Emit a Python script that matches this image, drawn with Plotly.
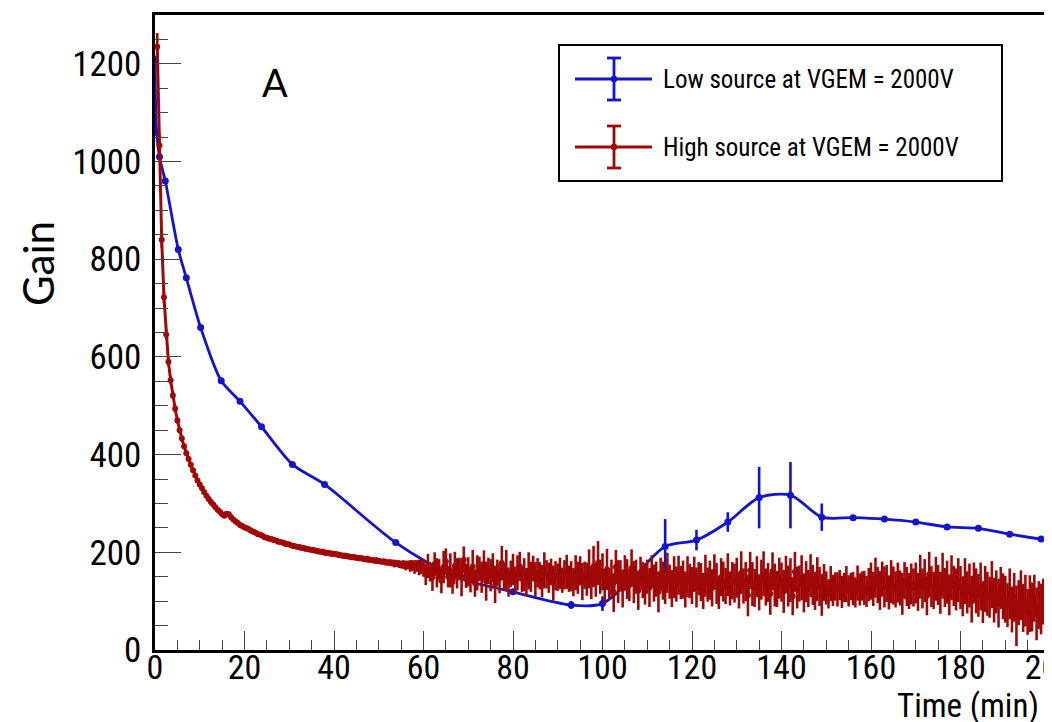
import plotly.graph_objects as go

# ---------------- data ----------------
# Low source (blue) : time (min), gain, error
low_time = [0, 0.35, 1.0, 2.3, 5.2, 7.0, 10.2, 14.8, 19.0, 23.8, 30.7, 37.9, 53.8, 67, 80, 93,
            100, 107, 114, 121, 128, 135, 142, 149, 156, 163, 170, 177, 184, 191, 198]
low_gain = [1210, 1060, 1010, 960, 820, 762, 660, 551, 509, 457, 380, 339, 220, 150, 119, 92,
            95, 150, 212, 225, 262, 312, 317, 272, 271, 268, 262, 252, 249, 237, 227]
low_err = [4, 4, 4, 4, 4, 4, 4, 4, 4, 4, 4, 4, 4, 6, 6, 8,
           15, 12, 56, 21, 20, 63, 68, 28, 5, 5, 5, 5, 5, 5, 5]

# High source (red) : sampled every 0.5 min starting at 0.5 min
red_step = 0.5
high_gain = [
    1235, 1033, 840, 722, 646, 590, 552, 521, 494, 470,
    450, 433, 417, 403, 391, 379, 368, 357, 347, 339,
    331, 323, 316, 309, 303, 298, 292, 287, 283, 278,
    275, 279, 278, 272, 267, 263, 260, 256, 254, 251,
    249, 247, 244, 242, 240, 237, 236, 234, 231, 230,
    228, 227, 225, 224, 222, 221, 220, 218, 217, 216,
    214, 213, 212, 211, 210, 209, 208, 207, 206, 205,
    204, 203, 202, 201, 201, 199, 199, 198, 197, 197,
    196, 195, 194, 193, 193, 192, 191, 190, 190, 189,
    188, 188, 187, 186, 186, 185, 184, 183, 183, 182,
    181, 181, 180, 179, 179, 178, 177, 177, 176, 175,
    175, 173, 174, 172, 173, 170, 172, 169, 170,
    # 60 - 69.5
    168, 155, 172, 160, 149, 176, 158, 165, 142, 170, 181, 150, 163, 139, 172, 157, 166, 148, 185, 152,
    # 70 - 79.5
    160, 144, 171, 137, 158, 166, 149, 175, 141, 162, 153, 168, 134, 159, 147, 178, 150, 163, 139, 156,
    # 80 - 89.5
    165, 143, 158, 171, 146, 154, 139, 162, 150, 167, 145, 158, 152, 141, 163, 155, 148, 160, 137, 152,
    # 90 - 99.5
    149, 157, 143, 154, 160, 146, 151, 139, 158, 148, 162, 140, 153, 145, 166, 135, 171, 142, 178, 150,
    # 100 - 109.5
    160, 128, 165, 137, 148, 118, 170, 140, 152, 126, 158, 145, 133, 168, 139, 150, 122, 157, 143, 135,
    # 110 - 119.5
    150, 128, 161, 137, 145, 119, 155, 142, 131, 158, 140, 126, 149, 135, 153, 138, 144, 124, 150, 141,
    # 120 - 129.5
    132, 155, 128, 146, 139, 121, 152, 134, 143, 127, 160, 136, 118, 149, 140, 131, 154, 126, 142, 137,
    # 130 - 139.5
    148, 122, 158, 131, 140, 112, 163, 135, 127, 150, 118, 144, 156, 129, 138, 115, 161, 133, 125, 147,
    # 140 - 149.5
    139, 120, 155, 131, 143, 110, 160, 128, 136, 148, 117, 140, 126, 152, 133, 121, 145, 130, 113, 138,
    # 150 - 159.5
    127, 115, 136, 122, 130, 124, 133, 119, 128, 135, 121, 130, 126, 118, 137, 124, 131, 127, 120, 134,
    # 160 - 169.5
    141, 125, 148, 133, 122, 145, 129, 136, 118, 140, 132, 124, 138, 127, 115, 142, 130, 121, 135, 128,
    # 170 - 179.5
    137, 119, 150, 126, 142, 111, 155, 130, 122, 146, 133, 117, 152, 128, 139, 113, 148, 131, 124, 143,
    # 180 - 189.5
    128, 110, 141, 118, 132, 104, 137, 121, 112, 130, 98, 125, 115, 108, 134, 102, 119, 96, 127, 110,
    # 190 - 199.5
    104, 92, 115, 83, 108, 70, 97, 112, 86, 101, 78, 95, 88, 106, 74, 92, 84, 99, 72, 88,
    # 200
    92,
]
high_err = [
    28, 22, 16, 12, 10, 9, 8, 7, 7, 6,
    6, 6, 6, 5, 5, 5, 5, 5, 5, 5,
    5, 5, 5, 5, 5, 5, 5, 5, 5, 5,
    5, 5, 5, 5, 5, 5, 5, 5, 5, 5,
    5, 5, 5, 5, 5, 5, 5, 5, 5, 5,
    5, 5, 5, 5, 6, 5, 5, 6, 5, 5,
    5, 6, 5, 5, 6, 5, 6, 5, 5, 6,
    6, 5, 6, 5, 6, 6, 5, 6, 6, 5,
    6, 6, 5, 6, 6, 6, 5, 6, 6, 6,
    6, 6, 6, 6, 7, 6, 6, 6, 7, 6,
    6, 6, 7, 6, 7, 7, 8, 7, 8, 8,
    9, 10, 9, 12, 11, 14, 12, 16, 15,
    18, 22, 25, 20, 28, 24, 30, 21, 26, 33, 27, 22, 35, 24, 29, 31, 23, 38, 27, 25,
    30, 26, 34, 28, 36, 25, 32, 29, 40, 27, 33, 30, 38, 26, 31, 35, 28, 42, 30, 27,
    32, 28, 36, 30, 27, 34, 29, 38, 31, 26, 35, 30, 28, 33, 37, 29, 31, 27, 36, 30,
    28, 32, 26, 30, 35, 27, 31, 29, 36, 33, 30, 38, 28, 34, 40, 31, 42, 33, 45, 35,
    38, 34, 42, 31, 37, 40, 35, 44, 32, 39, 36, 41, 33, 38, 43, 35, 40, 34, 37, 42,
    35, 40, 33, 38, 36, 42, 34, 39, 37, 41, 35, 38, 43, 36, 40, 34, 39, 37, 42, 35,
    38, 36, 41, 34, 39, 37, 43, 35, 40, 38, 36, 42, 34, 39, 41, 37, 44, 35, 38, 40,
    41, 37, 44, 36, 40, 43, 38, 45, 39, 42, 37, 41, 46, 38, 40, 43, 39, 44, 37, 42,
    40, 44, 38, 42, 45, 39, 41, 43, 37, 46, 40, 42, 38, 44, 41, 39, 45, 40, 43, 38,
    34, 30, 36, 32, 29, 35, 31, 33, 30, 37, 32, 28, 34, 31, 36, 33, 30, 35, 32, 34,
    38, 35, 41, 37, 40, 36, 42, 38, 35, 44, 39, 37, 41, 36, 43, 38, 40, 37, 42, 39,
    42, 39, 45, 41, 44, 40, 46, 42, 38, 45, 41, 43, 47, 40, 44, 42, 46, 41, 43, 45,
    44, 41, 47, 43, 45, 48, 42, 46, 44, 49, 43, 47, 45, 42, 48, 46, 44, 50, 43, 47,
    48, 45, 52, 47, 50, 62, 46, 51, 49, 53, 47, 58, 50, 48, 54, 49, 52, 47, 55, 50,
    45,
]
high_time = [round(red_step * (i + 1), 2) for i in range(len(high_gain))]

x_ticks = [0, 20, 40, 60, 80, 100, 120, 140, 160, 180, 200]
y_ticks = [0, 200, 400, 600, 800, 1000, 1200]

legend_labels = ["Low source at VGEM = 2000V", "High source at VGEM = 2000V"]
BLUE = "#1414c8"
RED = "#a00808"
NARROW = "Roboto Condensed, Liberation Sans, sans-serif"
PLAIN = "Lato, Liberation Sans, sans-serif"

# ---------------- figure ----------------
W, H = 1052, 722
L, R, T, B = 147, 10, 7, 80
PW, PH = W - L - R, H - T - B


def px(x):
    return (x - L) / PW


def py(y):
    return (H - B - y) / PH


fig = go.Figure()
fig.add_trace(go.Scatter(
    x=low_time, y=low_gain, name=legend_labels[0], mode="lines+markers",
    line=dict(color=BLUE, width=2.8, shape="spline", smoothing=0.8),
    marker=dict(color=BLUE, size=7),
    error_y=dict(type="data", array=low_err, color=BLUE, thickness=2.6, width=0),
    showlegend=False,
))
fig.add_trace(go.Scatter(
    x=high_time, y=high_gain, name=legend_labels[1], mode="lines+markers",
    line=dict(color=RED, width=3),
    marker=dict(color=RED, size=6),
    error_y=dict(type="data", array=high_err, color=RED, thickness=2.6, width=0),
    showlegend=False,
))

fig.update_xaxes(
    range=[0, 200], tickvals=x_ticks, ticktext=[str(v) for v in x_ticks],
    ticks="inside", ticklen=19, tickwidth=1, tickcolor="#444",
    minor=dict(ticks="inside", ticklen=10, dtick=5, tickwidth=1, tickcolor="#444"),
    showline=True, linecolor="black", linewidth=2.5, mirror=True,
    showgrid=False, zeroline=False, ticklabelstandoff=-15, ticklabeloverflow="allow",
    tickfont=dict(family=NARROW, size=34, color="black"),
)
fig.update_yaxes(
    range=[0, 1300], tickvals=y_ticks, ticktext=[str(v) for v in y_ticks],
    ticks="inside", ticklen=26, tickwidth=1, tickcolor="#444",
    minor=dict(ticks="inside", ticklen=13, dtick=50, tickwidth=1, tickcolor="#444"),
    showline=True, linecolor="black", linewidth=2.5, mirror=True,
    showgrid=False, zeroline=False, ticklabelstandoff=4, ticklabeloverflow="allow",
    tickfont=dict(family=NARROW, size=35, color="black"),
)

# ---- manual legend (ROOT style) ----
shapes = []
annotations = []
shapes.append(dict(type="rect", xref="paper", yref="paper",
                   x0=px(551), x1=px(994), y0=py(173), y1=py(37),
                   line=dict(color="black", width=2), fillcolor="white", layer="above"))
for (yc, col, lab) in [(71, BLUE, legend_labels[0]), (139, RED, legend_labels[1])]:
    shapes.append(dict(type="line", xref="paper", yref="paper",
                       x0=px(567), x1=px(644), y0=py(yc), y1=py(yc),
                       line=dict(color=col, width=2.8), layer="above"))
    shapes.append(dict(type="line", xref="paper", yref="paper",
                       x0=px(606), x1=px(606), y0=py(yc - 21), y1=py(yc + 21),
                       line=dict(color=col, width=2.8), layer="above"))
    for yy in (yc - 21, yc + 21):
        shapes.append(dict(type="line", xref="paper", yref="paper",
                           x0=px(599), x1=px(613), y0=py(yy), y1=py(yy),
                           line=dict(color=col, width=2.8), layer="above"))
    shapes.append(dict(type="circle", xref="paper", yref="paper",
                       x0=px(603), x1=px(609), y0=py(yc + 3), y1=py(yc - 3),
                       line=dict(color=col, width=1), fillcolor=col, layer="above"))
    annotations.append(dict(text=lab, xref="paper", yref="paper", x=px(653), y=py(yc),
                            xanchor="left", yanchor="middle", showarrow=False,
                            font=dict(family=NARROW, size=25, color="black")))

annotations.append(dict(text="A", xref="paper", yref="paper", x=px(267), y=py(74),
                        xanchor="center", yanchor="middle", showarrow=False,
                        font=dict(family=PLAIN, size=38, color="black")))
annotations.append(dict(text="Gain", xref="paper", yref="paper", x=px(30), y=py(256),
                        xanchor="center", yanchor="middle", showarrow=False, textangle=-90,
                        font=dict(family=PLAIN, size=42, color="black")))
annotations.append(dict(text="Time (min)", xref="paper", yref="paper", x=px(1033), y=py(697),
                        xanchor="right", yanchor="middle", showarrow=False,
                        font=dict(family=NARROW, size=33, color="black")))

fig.update_layout(
    width=W, height=H,
    margin=dict(l=L, r=R, t=T, b=B, autoexpand=False),
    paper_bgcolor="white", plot_bgcolor="white",
    shapes=shapes, annotations=annotations, showlegend=False,
)

fig.write_html("out.html")
